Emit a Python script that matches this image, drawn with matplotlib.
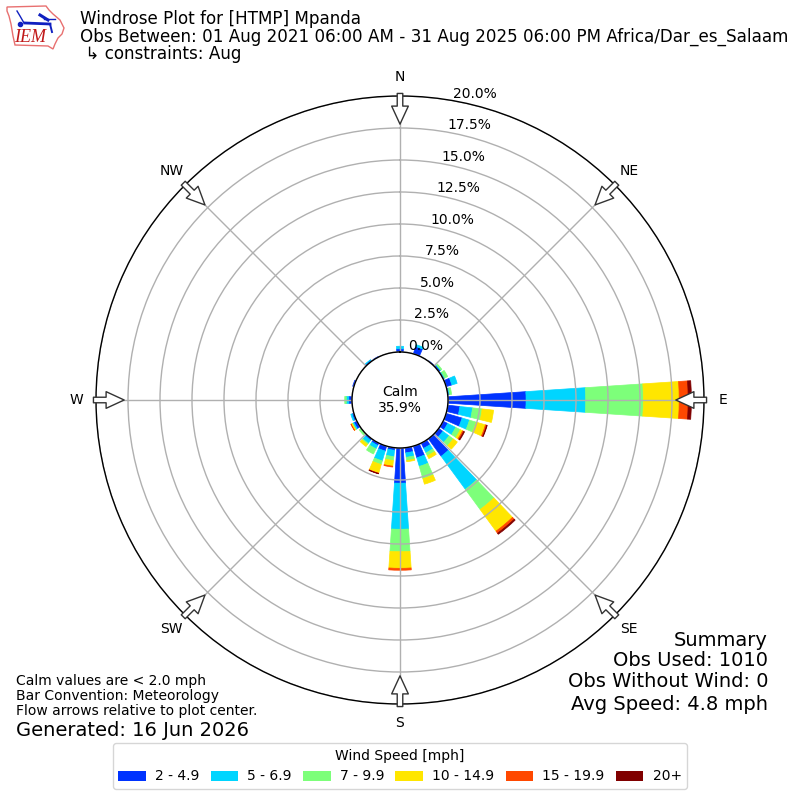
import numpy as np
import matplotlib
matplotlib.use('Agg')
import matplotlib.pyplot as plt
from matplotlib.patches import Polygon, Patch

# directions (deg) and percent of obs in each speed class
directions = [0, 20, 40, 50, 60, 70, 80, 90, 100, 110, 120, 130, 140, 150, 160, 170, 180,
              190, 200, 210, 220, 230, 240, 250, 270, 290, 320, 330]
speed_2_5 = [0.25, 0.6, 0.05, 0.15, 0.1, 0.47, 0.1, 6.1, 0.95, 1.3, 0.4, 0.4, 1.7, 0.45, 0.95, 0.4, 2.75,
             0.2, 0.4, 0.2, 0.15, 0.05, 0.25, 0.15, 0.25, 0.1, 0.12, 0.05]
speed_5_7 = [0.2, 0.15, 0.0, 0.05, 0.05, 0.43, 0.05, 4.66, 1.0, 0.6, 0.7, 0.6, 3.2, 0.4, 0.7, 0.35, 3.6,
             0.5, 0.8, 0.3, 0.3, 0.0, 0.12, 0.1, 0.2, 0.0, 0.03, 0.0]
speed_7_10 = [0.0, 0.0, 0.0, 0.1, 0.25, 0.0, 0.15, 4.5, 0.75, 0.55, 0.4, 0.4, 1.95, 0.25, 1.0, 0.25, 1.75,
              0.3, 0.3, 0.45, 0.1, 0.15, 0.04, 0.0, 0.12, 0.0, 0.0, 0.0]
speed_10_15 = [0.0, 0.0, 0.0, 0.0, 0.0, 0.0, 0.0, 2.8, 0.9, 0.75, 0.2, 0.4, 2.1, 0.25, 0.45, 0.1, 1.3,
               0.45, 0.7, 0.0, 0.2, 0.0, 0.1, 0.0, 0.0, 0.0, 0.0, 0.0]
speed_15_20 = [0.0, 0.0, 0.0, 0.0, 0.0, 0.0, 0.0, 0.7, 0.0, 0.1, 0.1, 0.0, 0.2, 0.0, 0.0, 0.0, 0.15,
               0.07, 0.03, 0.0, 0.0, 0.0, 0.02, 0.0, 0.0, 0.0, 0.0, 0.0]
speed_20 = [0.0, 0.0, 0.0, 0.0, 0.0, 0.0, 0.0, 0.25, 0.0, 0.05, 0.07, 0.0, 0.1, 0.0, 0.0, 0.0, 0.0,
            0.0, 0.03, 0.0, 0.0, 0.0, 0.0, 0.0, 0.0, 0.0, 0.0, 0.0]
series = [speed_2_5, speed_5_7, speed_7_10, speed_10_15, speed_15_20, speed_20]
speed_labels = ['2 - 4.9', '5 - 6.9', '7 - 9.9', '10 - 14.9', '15 - 19.9', '20+']
colors = ['#0033ff', '#00d5ff', '#7dff7a', '#ffe600', '#ff4800', '#800000']

compass = ['N', 'NE', 'E', 'SE', 'S', 'SW', 'W', 'NW']
compass_deg = [0, 45, 90, 135, 180, 225, 270, 315]
rings = [0, 2.5, 5, 7.5, 10, 12.5, 15, 17.5, 20]
summary_lines = ['Summary', 'Obs Used: 1010', 'Obs Without Wind: 0', 'Avg Speed: 4.8 mph']
summary_y = [0.2, 0.174, 0.148, 0.119]

fig = plt.figure(figsize=(8, 8), dpi=100)
ax = fig.add_axes([0.12, 0.12, 0.76, 0.76], projection='polar')
ax.set_theta_zero_location('N')
ax.set_theta_direction(-1)
ax.set_rorigin(-3.75)
ax.set_rlim(0, 20)

# stacked bars, empty classes skipped so they leave no edge line
theta = np.deg2rad(directions)
base = np.zeros(len(directions))
for vals, col in zip(series, colors):
    vals = np.array(vals)
    keep = vals > 0
    ax.bar(theta[keep], vals[keep], width=np.deg2rad(7.6), bottom=base[keep], color=col, edgecolor=col, linewidth=0.5, zorder=2)
    base += vals

ax.set_xticks(np.deg2rad(compass_deg))
ax.set_xticklabels(compass, fontsize=10)
ax.set_yticks(rings)
ax.set_yticklabels([f'{r:.1f}%' for r in rings], fontsize=10)
ax.set_rlabel_position(10)
ax.grid(True, color='#b0b0b0', linewidth=1)
ax.set_axisbelow(False)
ax.tick_params(axis='x', pad=3.5)
# keep the black circles above the gray rings
for sp in ax.spines.values():
    sp.set_linewidth(1)
    sp.set_edgecolor('black')
    sp.set_zorder(4)

# flow arrows at the compass points
for deg in compass_deg:
    ax.annotate('', xy=(np.deg2rad(deg), 17.8), xytext=(np.deg2rad(deg), 20.2), annotation_clip=False, zorder=5,
                arrowprops=dict(facecolor='white', edgecolor='#333333', linewidth=1, width=4, headwidth=12, headlength=13, shrink=0))

fig.text(0.5, 0.5, 'Calm\n35.9%', ha='center', va='center', fontsize=10, zorder=10)

fig.text(0.1, 0.954, 'Windrose Plot for [HTMP] Mpanda\nObs Between: 01 Aug 2021 06:00 AM - 31 Aug 2025 06:00 PM Africa/Dar_es_Salaam\n \u21b3 constraints: Aug',
         fontsize=12.05, va='center', ha='left', linespacing=0.95)
for line, y in zip(summary_lines, summary_y):
    fig.text(0.96, y, line, fontsize=14, ha='right', va='center')
fig.text(0.02, 0.13, 'Calm values are < 2.0 mph\nBar Convention: Meteorology\nFlow arrows relative to plot center.', fontsize=10, ha='left', va='center', linespacing=1.1)
fig.text(0.02, 0.0875, 'Generated: 16 Jun 2026', fontsize=14, ha='left', va='center')

handles = [Patch(facecolor=c, label=l) for c, l in zip(colors, speed_labels)]
fig.legend(handles=handles, title='Wind Speed [mph]', loc='lower center', bbox_to_anchor=(0.5, 0.005), ncol=6, fontsize=10, title_fontsize=10,
           handletextpad=0.65, columnspacing=0.8)

# IEM logo, axes in pixel units of the top left corner
logo = fig.add_axes([0, 1 - 55 / 800, 75 / 800, 55 / 800])
logo.axis('off')
logo.set_xlim(0, 75)
logo.set_ylim(55, 0)
iowa_x = [7, 46, 49, 53, 60, 64, 62, 58, 55, 53, 48, 15, 13, 11, 9, 7]
iowa_y = [7, 6, 10, 14, 20, 28, 34, 38, 44, 49, 46, 45, 36, 24, 16, 11]
logo.add_patch(Polygon(np.column_stack([iowa_x, iowa_y]), closed=True, fill=False, edgecolor='#e87070', linewidth=1))
logo.plot([25, 50], [23, 24], color='#1020c0', linewidth=2)
logo.plot([17, 20, 24], [11, 16, 23], color='#1020c0', linewidth=1)
logo.plot([40, 48], [15, 20], color='#1020c0', linewidth=2.2)
logo.plot([44, 55], [19, 19], color='#1020c0', linewidth=1)
logo.plot([50, 52], [24, 32], color='#1020c0', linewidth=1.4)
logo.plot([20], [24], 'o', color='#1020c0', markersize=3)
logo.text(30, 38, 'IEM', color='#c01818', fontsize=13, family='Liberation Serif', style='italic', ha='center', va='center')

fig.savefig('out.png', dpi=100)
